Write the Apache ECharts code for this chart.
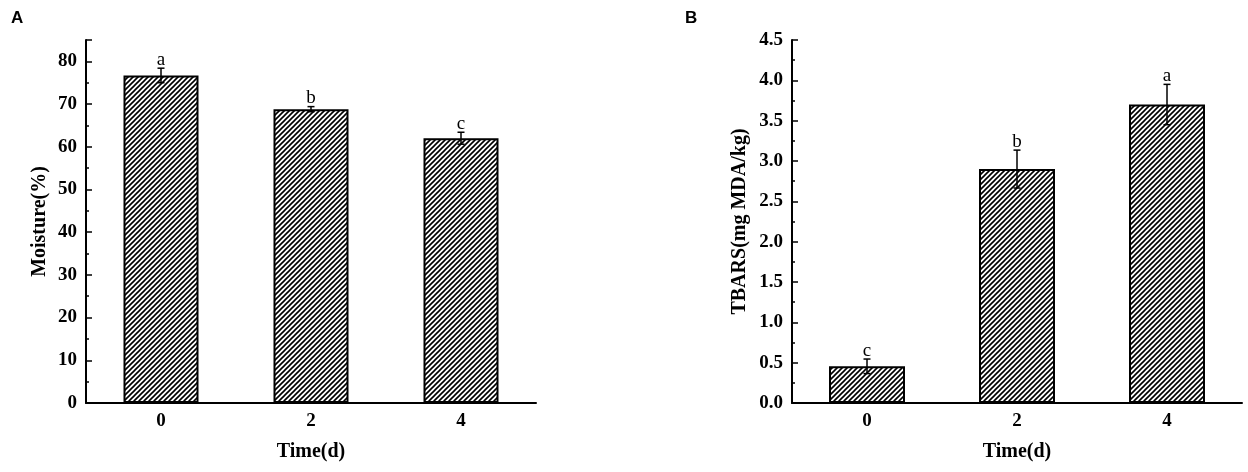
<!DOCTYPE html>
<html>
<head>
<meta charset="utf-8">
<script src="https://cdn.jsdelivr.net/npm/echarts@6/dist/echarts.min.js"></script>
<style>
html,body{margin:0;padding:0;background:#fff;}
#chart{width:1248px;height:472px;}
</style>
</head>
<body>
<div id="chart"></div>
<script>
// ---- data ----
const categories = ['0', '2', '4'];
const moistureValues = [76.7, 68.8, 62.0];
const moistureErrors = [1.7, 0.6, 1.4];
const moistureLetters = ['a', 'b', 'c'];
const tbarsValues = [0.455, 2.90, 3.70];
const tbarsErrors = [0.09, 0.235, 0.25];
const tbarsLetters = ['c', 'b', 'a'];

// ---- hatch pattern ----
function makeHatch() {
  const s = 5;
  const c = document.createElement('canvas');
  c.width = s; c.height = s;
  const ctx = c.getContext('2d');
  ctx.fillStyle = '#fff';
  ctx.fillRect(0, 0, s, s);
  ctx.strokeStyle = '#000';
  ctx.lineWidth = 1.6;
  ctx.beginPath();
  ctx.moveTo(-1, s + 1); ctx.lineTo(s + 1, -1);
  ctx.moveTo(-1, 1); ctx.lineTo(1, -1);
  ctx.moveTo(s - 1, s + 1); ctx.lineTo(s + 1, s - 1);
  ctx.stroke();
  return c;
}
const hatch = { image: makeHatch(), repeat: 'repeat' };

const serif = '"Liberation Serif", "DejaVu Serif", serif';

function errData(vals, errs, letters) {
  return vals.map((v, i) => [i, v, errs[i], letters[i]]);
}

function errRender(params, api) {
  const x = api.value(0), v = api.value(1), e = api.value(2);
  const letter = api.value(3);
  const top = api.coord([x, v + e]);
  const bot = api.coord([x, v - e]);
  const cw = 3.5;
  return {
    type: 'group',
    children: [
      { type: 'line', shape: { x1: top[0], y1: top[1], x2: bot[0], y2: bot[1] }, style: { stroke: '#000', lineWidth: 1.5 } },
      { type: 'line', shape: { x1: top[0] - cw, y1: top[1], x2: top[0] + cw, y2: top[1] }, style: { stroke: '#000', lineWidth: 1.5 } },
      { type: 'line', shape: { x1: bot[0] - cw, y1: bot[1], x2: bot[0] + cw, y2: bot[1] }, style: { stroke: '#000', lineWidth: 1.5 } },
      { type: 'text', style: { text: letter, x: top[0], y: top[1] + 1, align: 'center', verticalAlign: 'bottom', font: '19px ' + serif, fill: '#000' } }
    ]
  };
}

function xAxisCfg(gi) {
  return {
    type: 'category', gridIndex: gi, data: categories,
    name: 'Time(d)', nameLocation: 'middle', nameGap: 39,
    nameTextStyle: { fontFamily: serif, fontWeight: 'bold', fontSize: 20, color: '#000' },
    axisLine: { lineStyle: { color: '#000', width: 2 } },
    axisTick: { inside: true, alignWithLabel: true, length: 5, lineStyle: { color: '#000', width: 1.5 } },
    axisLabel: { fontFamily: serif, fontWeight: 'bold', fontSize: 19, color: '#000', margin: 9 },
    splitLine: { show: false }
  };
}

function yAxisCfg(gi, name, max, interval, gap, fmt) {
  return {
    type: 'value', gridIndex: gi, min: 0, max: max, interval: interval,
    name: name, nameLocation: 'middle', nameGap: gap,
    nameTextStyle: { fontFamily: serif, fontWeight: 'bold', fontSize: 20, color: '#000' },
    axisLine: { show: true, lineStyle: { color: '#000', width: 2 } },
    axisTick: { show: true, inside: true, length: 6, lineStyle: { color: '#000', width: 1.5 } },
    minorTick: { show: true, splitNumber: 2, length: 3, lineStyle: { color: '#000', width: 1.5 } },
    axisLabel: { fontFamily: serif, fontWeight: 'bold', fontSize: 19, color: '#000', margin: 9, formatter: fmt, showMaxLabel: max % interval === 0 },
    splitLine: { show: false }
  };
}

const chart = echarts.init(document.getElementById('chart'), null, { renderer: 'canvas' });
chart.setOption({
  backgroundColor: '#fff',
  animation: false,
  title: [
    { text: 'A', left: 11, top: 10, padding: 0, textStyle: { fontFamily: '"Liberation Sans", Arial, sans-serif', fontWeight: 'bold', fontSize: 17, color: '#000' } },
    { text: 'B', left: 685, top: 10, padding: 0, textStyle: { fontFamily: '"Liberation Sans", Arial, sans-serif', fontWeight: 'bold', fontSize: 17, color: '#000' } }
  ],
  grid: [
    { left: 86, top: 40, width: 450, height: 363 },
    { left: 792, top: 40, width: 450, height: 363 }
  ],
  xAxis: [xAxisCfg(0), xAxisCfg(1)],
  yAxis: [
    yAxisCfg(0, 'Moisture(%)', 85, 10, 36, v => v),
    yAxisCfg(1, 'TBARS(mg MDA/kg)', 4.5, 0.5, 42, v => v.toFixed(1))
  ],
  series: [
    {
      type: 'bar', xAxisIndex: 0, yAxisIndex: 0, data: moistureValues, barWidth: 75,
      itemStyle: { color: hatch, borderColor: '#000', borderWidth: 2 }
    },
    {
      type: 'custom', xAxisIndex: 0, yAxisIndex: 0, data: errData(moistureValues, moistureErrors, moistureLetters),
      renderItem: errRender, z: 10
    },
    {
      type: 'bar', xAxisIndex: 1, yAxisIndex: 1, data: tbarsValues, barWidth: 76,
      itemStyle: { color: hatch, borderColor: '#000', borderWidth: 2 }
    },
    {
      type: 'custom', xAxisIndex: 1, yAxisIndex: 1, data: errData(tbarsValues, tbarsErrors, tbarsLetters),
      renderItem: errRender, z: 10
    }
  ]
});
</script>
</body>
</html>
